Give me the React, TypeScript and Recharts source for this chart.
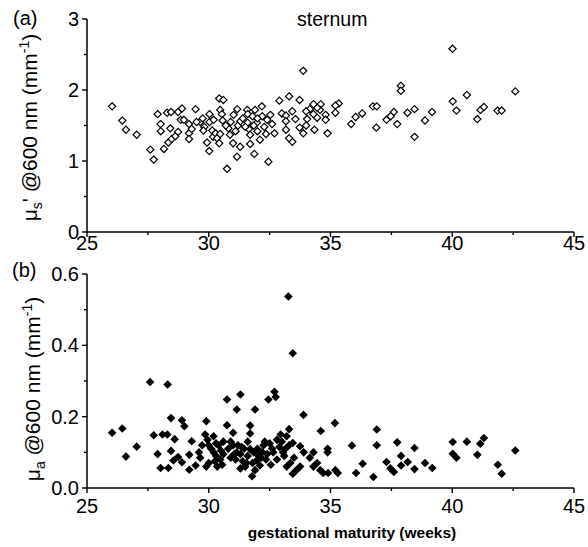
import React from "react";
import { ScatterChart, Scatter, XAxis, YAxis } from "recharts";

// (a) sternum, reduced scattering at 600 nm
const sternumWeeks = [
  26.03, 26.45, 26.6, 27.04, 27.6, 27.74, 27.9, 28.02, 28.03, 28.16, 28.29, 28.34, 28.45, 28.42, 28.48, 28.63,
  28.74, 28.74, 28.9, 28.85, 28.98, 29.19, 29.19, 29.19, 29.3, 29.46, 29.65, 29.75, 29.82, 29.78, 29.93, 30.02,
  30.03, 30.03, 30.14, 30.18, 30.28, 30.34, 30.43, 30.43, 30.6, 30.47, 30.54, 30.57, 30.47, 30.75, 30.81, 30.87,
  31.02, 31.0, 31.17, 31.16, 31.2, 31.29, 31.3, 31.58, 31.6, 31.6, 31.65, 31.7, 31.7, 31.87, 31.9, 31.8,
  31.98, 32.0, 32.1, 32.2, 32.18, 32.28, 32.35, 32.45, 32.53, 32.6, 32.7, 32.9, 33.0, 31.4, 31.5, 31.1,
  30.9, 32.4, 32.0, 31.85, 30.7, 30.2, 29.5,
  40.01, 33.88, 37.89, 37.89, 42.59, 40.6, 40.02, 40.17, 41.03, 41.16, 41.3, 41.86, 42.03, 39.17, 38.88, 38.45,
  38.45, 38.16, 37.74, 37.6, 37.47, 37.3, 36.88, 36.74, 36.9, 36.3, 36.03, 35.85, 35.34, 35.2, 35.2, 34.88,
  34.8, 34.8, 34.6, 34.57, 34.45, 34.45, 34.3, 34.3, 34.34, 34.15, 34.04, 34.0, 34.0, 33.88, 33.73, 33.73,
  33.56, 33.43, 33.43, 33.3, 33.3, 33.17, 33.17, 33.17,
];
const sternumMuS = [
  1.77, 1.57, 1.44, 1.37, 1.16, 1.02, 1.66, 1.52, 1.42, 1.17, 1.68, 1.26, 1.69, 1.46, 1.31, 1.35,
  1.41, 1.69, 1.74, 1.58, 1.58, 1.52, 1.39, 1.31, 1.45, 1.73, 1.55, 1.6, 1.48, 1.43, 1.26, 1.14,
  1.66, 1.55, 1.43, 1.34, 1.39, 1.32, 1.25, 1.88, 1.86, 1.72, 1.66, 1.57, 1.38, 0.89, 1.46, 1.37,
  1.65, 1.25, 1.73, 1.06, 1.5, 1.2, 1.56, 1.72, 1.66, 1.54, 1.45, 1.37, 1.24, 1.1, 1.72, 1.63,
  1.54, 1.42, 1.3, 1.63, 1.77, 1.48, 1.38, 0.99, 1.65, 1.52, 1.39, 1.85, 1.67, 1.6, 1.48, 1.42,
  1.55, 1.58, 1.6, 1.5, 1.5, 1.58, 1.55,
  2.58, 2.27, 2.06, 1.99, 1.98, 1.93, 1.84, 1.71, 1.59, 1.72, 1.76, 1.71, 1.71, 1.69, 1.57, 1.73,
  1.34, 1.68, 1.52, 1.69, 1.63, 1.58, 1.47, 1.77, 1.77, 1.67, 1.62, 1.52, 1.81, 1.78, 1.68, 1.39,
  1.65, 1.58, 1.8, 1.72, 1.75, 1.61, 1.8, 1.66, 1.44, 1.73, 1.59, 1.7, 1.5, 1.39, 1.86, 1.47,
  1.59, 1.7, 1.27, 1.91, 1.32, 1.64, 1.56, 1.44,
];

// (b) absorption at 600 nm
const absWeeks = [
  26.03, 26.45, 26.6, 27.04, 27.59, 28.31, 27.74, 27.9, 28.02, 28.1, 28.3, 28.45, 28.45, 28.34, 28.6, 28.55,
  28.74, 28.9, 29.0, 28.9, 29.2, 29.2, 29.3, 29.46, 29.65, 29.73, 29.9, 29.85, 30.0, 29.9, 30.2, 30.3,
  30.3, 30.47, 30.75, 30.75, 31.0, 31.15, 31.3, 31.0, 31.15, 31.4, 31.3, 31.7, 31.7, 31.9, 31.7, 31.78,
  31.98, 32.1, 32.3, 32.35, 32.45, 32.7, 32.75, 32.6, 32.8, 32.95, 33.1, 33.3, 33.27, 33.45, 33.45, 33.3,
  30.1, 30.2, 30.4, 30.5, 30.6, 30.6, 30.8, 30.9, 30.9, 31.1, 31.2, 31.3, 31.45, 31.5, 31.6, 31.8,
  31.85, 31.9, 32.0, 32.05, 32.2, 32.25, 32.4, 32.5, 32.65, 32.9, 33.0, 33.05, 33.2, 33.35, 30.0, 29.6,
  29.95, 30.35, 31.6, 32.8, 30.25, 30.55, 31.05, 31.35, 31.55, 32.15, 32.55, 33.15,
  33.45, 33.89, 34.6, 35.18, 34.88, 34.88, 34.3, 33.75, 33.9, 33.5, 34.15, 34.45, 33.2, 33.75, 33.6, 34.3,
  34.58, 34.7, 34.9, 35.3, 35.2, 35.88, 36.05, 36.32, 36.76, 36.9, 36.9, 37.3, 37.46, 37.6, 37.74, 37.9,
  37.9, 38.17, 38.45, 38.45, 38.88, 39.18, 40.02, 40.02, 40.17, 40.6, 41.03, 41.15, 41.3, 41.87, 42.03, 42.59,
];
const absMuA = [
  0.155, 0.167, 0.088, 0.116, 0.297, 0.29, 0.148, 0.095, 0.056, 0.15, 0.15, 0.196, 0.104, 0.056, 0.137, 0.077,
  0.087, 0.19, 0.173, 0.072, 0.051, 0.093, 0.131, 0.063, 0.085, 0.12, 0.187, 0.15, 0.07, 0.06, 0.145, 0.125,
  0.09, 0.08, 0.248, 0.176, 0.155, 0.22, 0.262, 0.12, 0.1, 0.075, 0.055, 0.175, 0.153, 0.22, 0.109, 0.033,
  0.078, 0.063, 0.13, 0.08, 0.248, 0.27, 0.255, 0.11, 0.08, 0.15, 0.09, 0.165, 0.537, 0.378, 0.04, 0.12,
  0.11, 0.1, 0.12, 0.105, 0.095, 0.13, 0.11, 0.085, 0.13, 0.08, 0.12, 0.095, 0.11, 0.06, 0.09, 0.07,
  0.1, 0.05, 0.11, 0.09, 0.1, 0.12, 0.095, 0.125, 0.1, 0.115, 0.13, 0.1, 0.145, 0.07, 0.12, 0.1,
  0.135, 0.06, 0.13, 0.135, 0.075, 0.065, 0.095, 0.115, 0.07, 0.085, 0.065, 0.11,
  0.126, 0.205, 0.16, 0.182, 0.11, 0.1, 0.1, 0.117, 0.1, 0.085, 0.085, 0.07, 0.06, 0.06, 0.05, 0.06,
  0.05, 0.042, 0.042, 0.042, 0.05, 0.119, 0.042, 0.068, 0.031, 0.164, 0.12, 0.073, 0.055, 0.045, 0.128, 0.09,
  0.063, 0.073, 0.112, 0.053, 0.07, 0.056, 0.129, 0.096, 0.085, 0.13, 0.093, 0.124, 0.14, 0.065, 0.04, 0.105,
];

const weekTicks = [25, 27.5, 30, 32.5, 35, 37.5, 40, 42.5, 45];
const musTicks = [0, 0.5, 1, 1.5, 2, 2.5, 3];
const muaTicks = [0, 0.1, 0.2, 0.3, 0.4, 0.5, 0.6];

const sternumData = sternumWeeks.map((x, i) => ({ x, y: sternumMuS[i] }));
const absData = absWeeks.map((x, i) => ({ x, y: absMuA[i] }));

const FONT = "'Liberation Sans', Arial, Helvetica, sans-serif";

const XTick = (props: any) => {
  const { x, y, payload, labelDy } = props;
  const major = payload.value % 5 === 0;
  return (
    <g>
      <line x1={x} x2={x} y1={y} y2={y + (major ? 5 : 3)} stroke="#000" strokeWidth={1.4} />
      {major && (
        <text x={x} y={y + labelDy} textAnchor="middle" fontSize={20} fontFamily={FONT} fill="#000">
          {payload.value}
        </text>
      )}
    </g>
  );
};

const YTick = (props: any) => {
  const { x, y, payload, isMajor, fmt } = props;
  const major = isMajor(payload.value);
  return (
    <g>
      <line x1={x} x2={x - (major ? 5 : 3)} y1={y} y2={y} stroke="#000" strokeWidth={1.4} />
      {major && (
        <text x={x - 8} y={y + 7} textAnchor="end" fontSize={20} fontFamily={FONT} fill="#000">
          {fmt(payload.value)}
        </text>
      )}
    </g>
  );
};

const OpenDiamond = (props: any) => {
  const { cx, cy } = props;
  const r = 3.6;
  return <path d={`M${cx},${cy - r}L${cx + r},${cy}L${cx},${cy + r}L${cx - r},${cy}Z`} fill="#fff" stroke="#000" strokeWidth={1.2} />;
};

const FilledDiamond = (props: any) => {
  const { cx, cy } = props;
  const r = 4.3;
  return <path d={`M${cx},${cy - r}L${cx + r},${cy}L${cx},${cy + r}L${cx - r},${cy}Z`} fill="#000" />;
};

const axisLine = { stroke: "#000", strokeWidth: 1.5 };

export default function App() {
  return (
    <div style={{ position: "absolute", left: 0, top: 0, width: 588, height: 547, background: "#fff" }}>
      <div style={{ position: "absolute", left: 0, top: 0 }}>
        <ScatterChart width={588} height={260} margin={{ top: 19, right: 14, bottom: 0, left: 0 }}>
          <XAxis
            type="number"
            dataKey="x"
            domain={[25, 45]}
            ticks={weekTicks}
            height={28}
            axisLine={axisLine}
            tickLine={false}
            tickSize={0}
            tickMargin={0}
            interval={0}
            tick={(p: any) => <XTick {...p} labelDy={18} />}
          />
          <YAxis
            type="number"
            dataKey="y"
            domain={[0, 3]}
            ticks={musTicks}
            width={87}
            axisLine={axisLine}
            tickLine={false}
            tickSize={0}
            tickMargin={0}
            interval={0}
            tick={(p: any) => (
              <YTick {...p} isMajor={(v: number) => Number.isInteger(v)} fmt={(v: number) => String(v)} />
            )}
          />
          <Scatter data={sternumData} shape={(p: any) => <OpenDiamond {...p} />} isAnimationActive={false} />
        </ScatterChart>
      </div>
      <div style={{ position: "absolute", left: 0, top: 260 }}>
        <ScatterChart width={588} height={287} margin={{ top: 14, right: 14, bottom: 0, left: 0 }}>
          <XAxis
            type="number"
            dataKey="x"
            domain={[25, 45]}
            ticks={weekTicks}
            height={59}
            axisLine={axisLine}
            tickLine={false}
            tickSize={0}
            tickMargin={0}
            interval={0}
            tick={(p: any) => <XTick {...p} labelDy={25} />}
          />
          <YAxis
            type="number"
            dataKey="y"
            domain={[0, 0.6]}
            ticks={muaTicks}
            width={87}
            axisLine={axisLine}
            tickLine={false}
            tickSize={0}
            tickMargin={0}
            interval={0}
            tick={(p: any) => (
              <YTick
                {...p}
                isMajor={(v: number) => Math.round(v * 10) % 2 === 0}
                fmt={(v: number) => v.toFixed(1)}
              />
            )}
          />
          <Scatter data={absData} shape={(p: any) => <FilledDiamond {...p} />} isAnimationActive={false} />
        </ScatterChart>
      </div>
      <svg
        width={588}
        height={547}
        style={{ position: "absolute", left: 0, top: 0, pointerEvents: "none" }}
        fontFamily={FONT}
      >
        <text x={13} y={25} fontSize={20}>(a)</text>
        <text x={12} y={277} fontSize={20}>(b)</text>
        <text x={297} y={26} fontSize={19.5}>sternum</text>
        <text transform="rotate(-90, 37, 127.5)" x={37} y={127.5} textAnchor="middle" fontSize={21}>
          <tspan>μ</tspan>
          <tspan fontSize={14} dy={5}>s</tspan>
          <tspan dy={-5}>' @600 nm (mm</tspan>
          <tspan fontSize={14} dy={-8}>-1</tspan>
          <tspan dy={8}>)</tspan>
        </text>
        <text transform="rotate(-90, 40, 389)" x={40} y={389} textAnchor="middle" fontSize={21}>
          <tspan>μ</tspan>
          <tspan fontSize={14} dy={5}>a</tspan>
          <tspan dy={-5}> @600 nm (mm</tspan>
          <tspan fontSize={14} dy={-8}>-1</tspan>
          <tspan dy={8}>)</tspan>
        </text>
        <text x={352} y={538} textAnchor="middle" fontSize={15.5} fontWeight="bold">
          gestational maturity (weeks)
        </text>
      </svg>
    </div>
  );
}
